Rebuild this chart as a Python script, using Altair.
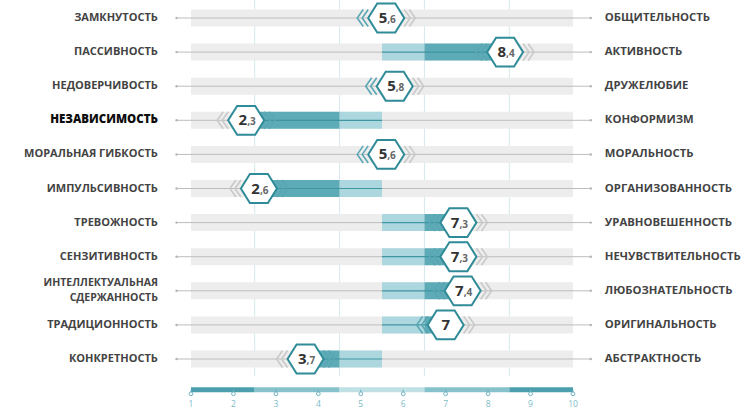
import altair as alt
import pandas as pd

left_labels = ["ЗАМКНУТОСТЬ", "ПАССИВНОСТЬ", "НЕДОВЕРЧИВОСТЬ", "НЕЗАВИСИМОСТЬ",
               "МОРАЛЬНАЯ ГИБКОСТЬ", "ИМПУЛЬСИВНОСТЬ", "ТРЕВОЖНОСТЬ", "СЕНЗИТИВНОСТЬ",
               "ИНТЕЛЛЕКТУАЛЬНАЯ\nСДЕРЖАННОСТЬ", "ТРАДИЦИОННОСТЬ", "КОНКРЕТНОСТЬ"]
right_labels = ["ОБЩИТЕЛЬНОСТЬ", "АКТИВНОСТЬ", "ДРУЖЕЛЮБИЕ", "КОНФОРМИЗМ",
                "МОРАЛЬНОСТЬ", "ОРГАНИЗОВАННОСТЬ", "УРАВНОВЕШЕННОСТЬ", "НЕЧУВСТВИТЕЛЬНОСТЬ",
                "ЛЮБОЗНАТЕЛЬНОСТЬ", "ОРИГИНАЛЬНОСТЬ", "АБСТРАКТНОСТЬ"]
scores = [5.6, 8.4, 5.8, 2.3, 5.6, 2.6, 7.3, 7.3, 7.4, 7.0, 3.7]
highlight = [False, False, False, True, False, False, False, False, False, False, False]
grid_values = [2.5, 4.5, 6.5, 8.5]
scale_ticks = [1, 2, 3, 4, 5, 6, 7, 8, 9, 10]
scale_seg_lo = [1, 2.5, 4.5, 6.5, 8.5]
scale_seg_hi = [2.5, 4.5, 6.5, 8.5, 10]
scale_seg_tone = ["dark", "mid", "light", "mid", "dark"]

rows = []
for i, (l, r, v, h) in enumerate(zip(left_labels, right_labels, scores, highlight)):
    ip = int(v)
    dec = round((v - ip) * 10)
    if v > 5.5:
        light_lo, light_hi = 5.5, min(v, 6.5)
        dark_lo, dark_hi = (6.5, v) if v > 6.5 else (None, None)
        side = "right"
    elif v < 5.5:
        light_lo, light_hi = max(v, 4.5), 5.5
        dark_lo, dark_hi = (v, 4.5) if v < 4.5 else (None, None)
        side = "left"
    else:
        light_lo = light_hi = dark_lo = dark_hi = None
        side = "none"
    parts = l.split("\n")
    rows.append(dict(row=i, left=l, l1=parts[0], l2=parts[1] if len(parts) > 1 else "",
                     right=r, v=v, hl=int(h),
                     ip=str(ip), dec=("," + str(dec)) if dec else "",
                     light_lo=light_lo, light_hi=light_hi, dark_lo=dark_lo, dark_hi=dark_hi,
                     side=side))
df = pd.DataFrame(rows)
df["col_lo"] = df[["light_lo", "dark_lo"]].min(axis=1)
df["col_hi"] = df[["light_hi", "dark_hi"]].max(axis=1)
df["chev_l"] = df["side"].map({"right": "#5aa7b3", "left": "#c9c9c9", "none": "#7fbac4"})
df["chev_r"] = df["side"].map({"right": "#c9c9c9", "left": "#5aa7b3", "none": "#7fbac4"})

X = alt.Scale(domain=[-3.5, 14.147], nice=False, zero=False)
Y = alt.Scale(domain=[-0.528, 11.466], reverse=True, nice=False, zero=False)
LABEL_FONT = "Open Sans"


def xq(f):
    return alt.X(f, type="quantitative", scale=X, axis=None)


def yq(f="row"):
    return alt.Y(f, type="quantitative", scale=Y, axis=None)


base = alt.Chart(df)

grid = alt.Chart(pd.DataFrame({"g": grid_values})).transform_calculate(
    ya="-0.6", yb="10.5").mark_rule(color="#d5e9ed", strokeWidth=1).encode(
    x=xq("g"), y=yq("ya"), y2="yb:Q")

bg = base.transform_calculate(xa="1", xb="10").mark_rule(color="#ededed", strokeWidth=17).encode(
    x=xq("xa"), x2="xb:Q", y=yq())

cline = base.transform_calculate(xa="0.66", xb="10.42").mark_rule(color="#bdbdbd", strokeWidth=1).encode(
    x=xq("xa"), x2="xb:Q", y=yq())

dots_l = base.transform_calculate(xa="0.66").mark_point(
    shape="circle", filled=True, size=6, color="#b5b5b5", opacity=1).encode(x=xq("xa"), y=yq())
dots_r = base.transform_calculate(xa="10.42").mark_point(
    shape="circle", filled=True, size=6, color="#b5b5b5", opacity=1).encode(x=xq("xa"), y=yq())

light = base.transform_filter("isValid(datum.light_lo)").mark_rule(color="#acd7df", strokeWidth=17).encode(
    x=xq("light_lo"), x2="light_hi:Q", y=yq())
dark = base.transform_filter("isValid(datum.dark_lo)").mark_rule(color="#5cabb7", strokeWidth=17).encode(
    x=xq("dark_lo"), x2="dark_hi:Q", y=yq())
tline = base.transform_filter("isValid(datum.col_lo)").mark_rule(color="#3f95a1", strokeWidth=1.2).encode(
    x=xq("col_lo"), x2="col_hi:Q", y=yq())

chev_left_path = "M0.35,-1L-0.35,0L0.35,1"
chev_right_path = "M-0.35,-1L0.35,0L-0.35,1"
chevs = []
for off, path, colf in [(-21, chev_left_path, "chev_l"), (-26, chev_left_path, "chev_l"),
                        (21, chev_right_path, "chev_r"), (26, chev_right_path, "chev_r")]:
    chevs.append(base.mark_point(shape=path, filled=False, size=290, strokeWidth=1.6,
                                 xOffset=off, opacity=1).encode(
        x=xq("v"), y=yq(), color=alt.Color(colf, type="nominal", scale=None, legend=None)))

hexa = base.mark_point(shape="M-1,0L-0.5,-0.8L0.5,-0.8L1,0L0.5,0.8L-0.5,0.8Z", size=1300,
                       filled=True, fill="white", stroke="#2f8b97", strokeWidth=2, opacity=1).encode(
    x=xq("v"), y=yq())

int_dec = base.transform_filter("datum.dec != ''").mark_text(
    align="right", baseline="middle", fontSize=15, fontWeight="bold", font="Open Sans",
    color="#333333", xOffset=1).encode(x=xq("v"), y=yq(), text="ip:N")
dec_t = base.transform_filter("datum.dec != ''").mark_text(
    align="left", baseline="middle", fontSize=10, fontWeight="bold", font="Open Sans",
    color="#666666", xOffset=1, dy=2).encode(x=xq("v"), y=yq(), text="dec:N")
int_only = base.transform_filter("datum.dec == ''").mark_text(
    align="center", baseline="middle", fontSize=15, fontWeight="bold", font="Open Sans",
    color="#333333").encode(x=xq("v"), y=yq(), text="ip:N")

left_single = base.transform_filter("datum.hl == 0 && datum.l2 == ''").transform_calculate(xa="0.22").mark_text(
    align="right", baseline="middle", fontSize=11, font=LABEL_FONT, fontWeight=700,
    color="#434343").encode(x=xq("xa"), y=yq(), text="l1:N")
left_top = base.transform_filter("datum.l2 != ''").transform_calculate(xa="0.22").mark_text(
    align="right", baseline="middle", fontSize=10.5, font=LABEL_FONT, fontWeight=700,
    color="#434343", dy=-7.5).encode(x=xq("xa"), y=yq(), text="l1:N")
left_bot = base.transform_filter("datum.l2 != ''").transform_calculate(xa="0.22").mark_text(
    align="right", baseline="middle", fontSize=10.5, font=LABEL_FONT, fontWeight=700,
    color="#434343", dy=7.5).encode(x=xq("xa"), y=yq(), text="l2:N")
left_hl = base.transform_filter("datum.hl == 1").transform_calculate(xa="0.22").mark_text(
    align="right", baseline="middle", fontSize=11.5, font=LABEL_FONT, fontWeight=800,
    color="#0d0d0d").encode(x=xq("xa"), y=yq(), text="l1:N")
right_t = base.transform_calculate(xa="10.75").mark_text(
    align="left", baseline="middle", fontSize=11.3, font=LABEL_FONT,
    fontWeight=700, color="#434343").encode(x=xq("xa"), y=yq(), text="right:N")

seg_df = pd.DataFrame({"lo": scale_seg_lo, "hi": scale_seg_hi, "tone": scale_seg_tone})
segs = alt.Chart(seg_df).transform_calculate(ya="10.9").mark_rule(strokeWidth=5).encode(
    x=xq("lo"), x2="hi:Q", y=yq("ya"),
    color=alt.Color("tone:N", scale=alt.Scale(domain=["dark", "mid", "light"],
                                              range=["#4b9fac", "#86c2cb", "#bfe0e5"]), legend=None))
tick_df = pd.DataFrame({"t": scale_ticks, "lab": [str(t) for t in scale_ticks]})
tick_stem = alt.Chart(tick_df).transform_calculate(ya="10.9", yb="11.0").mark_rule(
    color="#6fb4bf", strokeWidth=1).encode(x=xq("t"), y=yq("ya"), y2="yb:Q")
tick_pts = alt.Chart(tick_df).transform_calculate(ya="11.02").mark_point(
    shape="circle", filled=True, fill="white", stroke="#6fb4bf",
    strokeWidth=1, size=14, opacity=1).encode(x=xq("t"), y=yq("ya"))
tick_lab = alt.Chart(tick_df).transform_calculate(ya="11.33").mark_text(
    fontSize=8.5, font="Open Sans", color="#7bbcc6", baseline="middle").encode(
    x=xq("t"), y=yq("ya"), text="lab:N")

chart = alt.layer(grid, bg, cline, dots_l, dots_r, light, dark, tline, *chevs, hexa,
                  int_dec, dec_t, int_only, left_single, left_top, left_bot, left_hl, right_t,
                  segs, tick_stem, tick_pts, tick_lab).properties(
    width=749, height=409, padding=0, autosize=alt.AutoSizeParams(type="none"),
    background="white"
).configure_view(stroke=None)

chart.save("out.html", embed_options={"renderer": "svg", "actions": False})
